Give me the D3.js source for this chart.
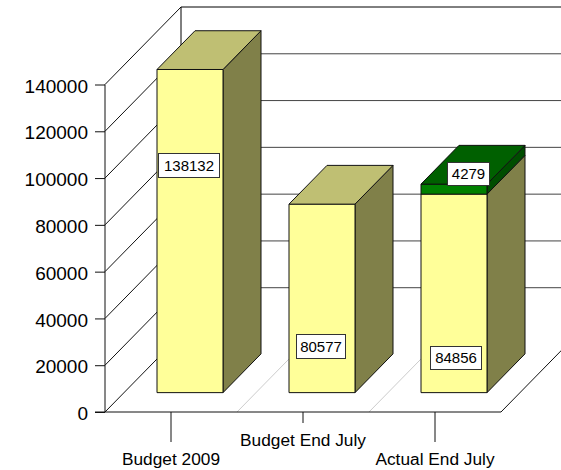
<!DOCTYPE html>
<html><head><meta charset="utf-8">
<script src="https://cdn.jsdelivr.net/npm/d3@7/dist/d3.min.js"></script>
<style>
html,body{margin:0;padding:0;background:#fff;overflow:hidden}
svg{display:block}
text{font-family:"Liberation Sans",Arial,sans-serif;fill:#000}
</style></head><body>
<svg id="c" width="561" height="470" viewBox="0 0 561 470"></svg>
<script>
const categories = ["Budget 2009", "Budget End July", "Actual End July"];
const baseValues = [138132, 80577, 84856];
const topValues = [0, 0, 4279];
const yTicks = [0, 20000, 40000, 60000, 80000, 100000, 120000, 140000];

const svg = d3.select("#c");
const x = d3.scaleBand().domain(categories).range([105, 501]);
const y = d3.scaleLinear().domain([0, 140000]).range([412, 84.5]);
const depthX = d3.scaleLinear().domain([0, 1]).range([0, 76]);
const depthY = d3.scaleLinear().domain([0, 1]).range([0, -77.5]);
const P = (px, v, d) => [px + depthX(d), y(v) + depthY(d)];
const path = pts => "M" + pts.map(p => p.join(",")).join("L") + "Z";
const line = (g, a, b, col, w) => g.append("line").attr("x1", a[0]).attr("y1", a[1]).attr("x2", b[0]).attr("y2", b[1]).attr("stroke", col).attr("stroke-width", w);

// walls
const walls = svg.append("g");
const xL = 105, xR = 501;
yTicks.forEach(t => {
  line(walls, P(xL, t, 0), P(xL, t, 1), "#111", 1);
  if (t > 0) line(walls, P(xL, t, 1), P(xR, t, 1), t === 140000 ? "#000" : "#444", 1);
});
line(walls, P(xL, 0, 1), P(xL, 140000, 1), "#000", 1);
line(walls, P(xR, 0, 0), P(xR, 0, 1), "#111", 1);
categories.slice(1).forEach(c => line(walls, P(x(c), 0, 0), P(x(c), 0, 1), "#ccc", 1));

// y axis
const yAxis = d3.axisLeft(y).tickValues(yTicks).tickSize(10).tickPadding(7).tickFormat(d3.format("d"));
const gy = svg.append("g").attr("transform", `translate(${xL},0)`).call(yAxis);
gy.select(".domain").attr("stroke", "#111").attr("d", `M0,${y(140000)}V${y(0)}`);
gy.selectAll(".tick line").attr("stroke", "#111");
gy.selectAll("text").attr("font-size", 19).attr("dy", "0.4em").attr("font-family", '"Liberation Sans"').attr("fill", "#000");

// bars
const barW = 66, d0 = 0.25, d1 = 0.75;
const faces = {
  yellow: {front: "#ffff99", top: "#bfbf73", side: "#808049"},
  green: {front: "#008000", top: "#006000", side: "#004d00"}
};
function box(g, left, v0, v1, col, withTop) {
  const r = left + barW;
  g.append("path").attr("d", path([P(r, v0, d0), P(r, v0, d1), P(r, v1, d1), P(r, v1, d0)])).attr("fill", col.side).attr("stroke", "#111");
  g.append("path").attr("d", path([P(left, v0, d0), P(r, v0, d0), P(r, v1, d0), P(left, v1, d0)])).attr("fill", col.front).attr("stroke", "#111");
  if (withTop) g.append("path").attr("d", path([P(left, v1, d0), P(r, v1, d0), P(r, v1, d1), P(left, v1, d1)])).attr("fill", col.top).attr("stroke", "#111");
}
const bars = svg.append("g");
categories.forEach((c, i) => {
  const bl = x(c) + x.bandwidth() / 2 - barW / 2;
  const base = baseValues[i], top = topValues[i];
  box(bars, bl, 0, base, faces.yellow, top === 0);
  if (top > 0) box(bars, bl, base, base + top, faces.green, true);
});

// x axis
const xAxisG = svg.append("g").attr("transform", `translate(0,${y(0)})`);
const xTickLen = [30, 11, 30];
const xLabelY = [53, 34, 53];
line(xAxisG, [95, 0], [xR, 0], "#111", 1);
categories.forEach((c, i) => {
  const cx = x(c) + x.bandwidth() / 2;
  line(xAxisG, [cx, 0], [cx, xTickLen[i]], "#111", 1);
  xAxisG.append("text").attr("x", cx).attr("y", xLabelY[i]).attr("text-anchor", "middle").attr("font-size", 17.3).text(c);
});

// value labels
const labels = [
  {text: baseValues[0], b: [158, 153, 61, 24]},
  {text: baseValues[1], b: [296, 334, 49, 24]},
  {text: baseValues[2], b: [430, 346, 51, 23]},
  {text: topValues[2], b: [447, 162, 42, 23]}
];
const lg = svg.append("g");
labels.forEach(l => {
  lg.append("rect").attr("x", l.b[0] + .5).attr("y", l.b[1] + .5).attr("width", l.b[2]).attr("height", l.b[3]).attr("fill", "#fff").attr("stroke", "#333");
  lg.append("text").attr("x", l.b[0] + l.b[2] / 2 + .5).attr("y", l.b[1] + l.b[3] / 2 + 5.5).attr("text-anchor", "middle").attr("font-size", 15).text(l.text);
});
</script></body></html>
